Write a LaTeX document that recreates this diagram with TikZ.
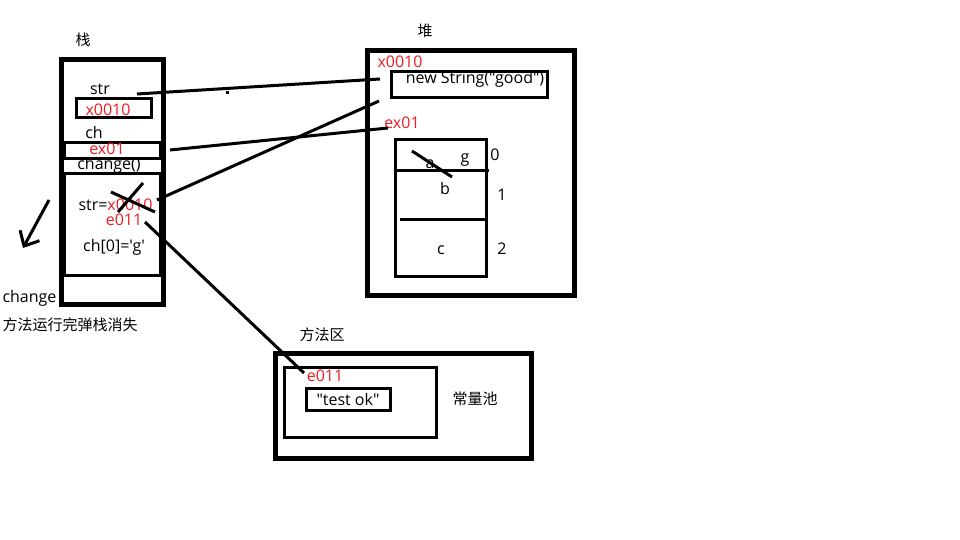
\documentclass[tikz,border=0pt]{standalone}
\usepackage{fontspec}
\setmainfont{Open Sans}[Ligatures=TeXOff]
\newfontfamily\cjk{Noto Sans CJK SC}
\usetikzlibrary{arrows.meta, positioning}
\definecolor{addrred}{RGB}{237,28,36}

\begin{document}
\begin{tikzpicture}[x=1pt, y=-1pt,
lbl/.style={inner sep=0pt, font=\fontsize{16}{18}\selectfont},
zh/.style={inner sep=0pt, font=\fontsize{15}{17}\selectfont\cjk},
addr/.style={lbl, text=addrred},
frame/.style={draw, line width=5pt, inner sep=0pt},
cell/.style={draw, line width=3pt, inner sep=0pt},
line/.style={draw, line width=3pt},
popline/.style={draw, line width=3pt, -{Straight Barb[length=12pt, width=22pt, line width=3pt]}}
]
\useasboundingbox[fill=white] (0,0) rectangle (960,540);

% stack
\node [zh] (stacktitle) at (83,40) {栈};
\node [frame, minimum width=102pt, minimum height=244pt] (stack) at (112,182) {};
\node [lbl] (strname) at (100,89) {str};
\node [cell, minimum width=75pt, minimum height=19pt] (strbox) at (113.5,108.5) {};
\node [addr] (strval) at (108,110) {x0010};
\node [lbl] (chname) at (94,133) {ch};
\node [cell, minimum width=96pt, minimum height=16pt] (chbox) at (112,151) {};
\node [addr] (chval) at (107,149) {ex01};
\node [lbl] (changename) at (109,165) {change()};
\node [cell, minimum width=96pt, minimum height=102pt] (frame-change) at (112,224.5) {};
\node [lbl] (strassign) at (115.5,205) {str=\textcolor{addrred}{x0010}};
\node [addr] (newaddr) at (124,220) {e011};
\node [lbl] (chassign) at (114,247) {ch[0]='g'};
\draw [line] (111,192) -- (155,212);
\draw [line] (143,183) -- (118,212);

\coordinate (pop-from) at (49,200);
\coordinate (pop-to) at (23,248);
\path [popline] (pop-from) -- (pop-to);
\node [lbl] (popname) at (29.5,298) {change};
\node [zh] (popnote) at (70,325) {方法运行完弹栈消失};

% heap
\node [zh] (heaptitle) at (425,31) {堆};
\node [frame, minimum width=207pt, minimum height=244pt] (heap) at (470.5,173) {};
\node [addr] (straddr) at (400,62) {x0010};
\node [cell, minimum width=156pt, minimum height=26pt] (strobj) at (469,85) {};
\node [lbl] (strtext) at (475,79) {new String("good")};
\node [addr] (arraddr) at (402,123) {ex01};
\node [cell, minimum width=91pt, minimum height=136pt] (arr) at (440.5,208) {};
\draw [line] (arr.west |- 0,171) -- (489,171);
\draw [line] (400,219) -- (arr.east |- 0,219);
\node [lbl] (elem-a) at (430,164) {a};
\node [lbl] (elem-g) at (465,160) {g};
\draw [line] (412,151) -- (452,177);
\node [lbl] (elem-b) at (445,188) {b};
\node [lbl] (elem-c) at (441,250) {c};
\node [lbl] (idx0) at (495,155) {0};
\node [lbl] (idx1) at (502,195) {1};
\node [lbl] (idx2) at (502,249) {2};

% method area
\node [zh] (methodtitle) at (322,335) {方法区};
\node [frame, minimum width=256pt, minimum height=105pt] (method) at (403,405.5) {};
\node [cell, minimum width=152pt, minimum height=70pt] (pool) at (360,402) {};
\node [addr] (okaddr) at (325,376) {e011};
\node [cell, lbl, minimum width=84pt, minimum height=22pt] (testok) at (348,399) {"test ok"};
\node [zh] (poolname) at (475,399) {常量池};

% references
\coordinate (str-ref) at (137,94);
\coordinate (str-obj) at (380,79);
\coordinate (ch-ref) at (170,150);
\coordinate (ch-obj) at (388,128);
\coordinate (assign-ref) at (157,200);
\coordinate (assign-obj) at (379,101);
\coordinate (ok-ref) at (145,222);
\coordinate (ok-obj) at (304,373);
\path [line] (str-ref) -- (str-obj);
\path [line] (ch-ref) -- (ch-obj);
\path [line] (assign-ref) -- (assign-obj);
\path [line] (ok-ref) -- (ok-obj);
\fill (225.5,91.5) rectangle (228.5,94.5);

\end{tikzpicture}
\end{document}
